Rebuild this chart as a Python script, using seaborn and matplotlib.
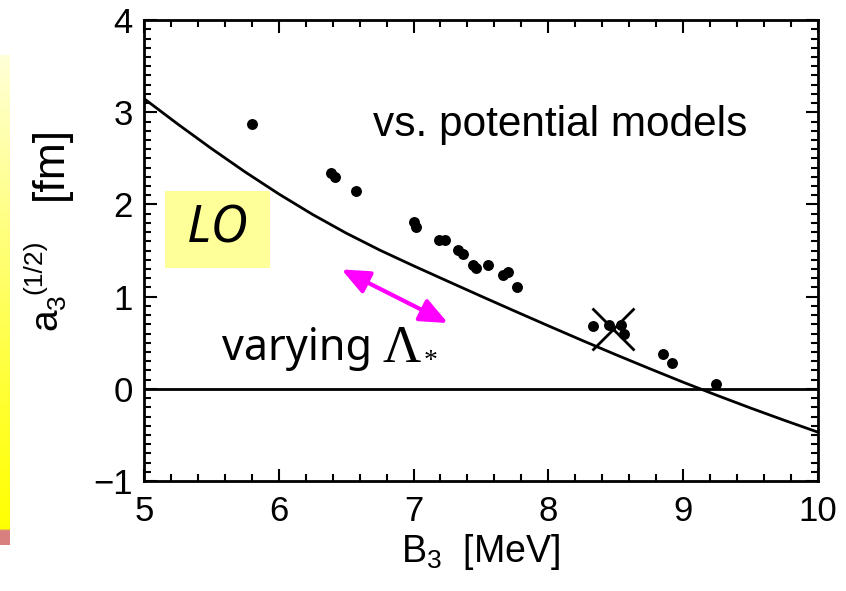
import numpy as np
import pandas as pd
import matplotlib
matplotlib.use("Agg")
import matplotlib.pyplot as plt
from matplotlib.patches import Rectangle
from matplotlib.ticker import MultipleLocator
from matplotlib.transforms import IdentityTransform
import seaborn as sns

# Three-body scattering length vs. triton binding energy
model_B3 = [5.80, 6.385, 6.42, 6.57, 7.00, 7.02, 7.19, 7.23, 7.33, 7.37, 7.44,
            7.46, 7.55, 7.66, 7.70, 7.77, 8.33, 8.45, 8.54, 8.56, 8.85, 8.92, 9.24]
model_a3 = [2.87, 2.34, 2.30, 2.15, 1.81, 1.76, 1.61, 1.61, 1.51, 1.46, 1.34,
            1.31, 1.34, 1.23, 1.27, 1.10, 0.68, 0.69, 0.69, 0.59, 0.38, 0.28, 0.05]

# LO curve (Phillips line)
lo_B3 = [5.0, 5.25, 5.5, 5.75, 6.0, 6.25, 6.5, 6.75, 7.0, 7.25, 7.5,
         7.75, 8.0, 8.25, 8.5, 8.75, 9.0, 9.25, 9.5, 9.75, 10.0]
lo_a3 = [3.15, 2.874, 2.608, 2.354, 2.115, 1.893, 1.69, 1.505, 1.335, 1.17,
         1.006, 0.844, 0.684, 0.526, 0.371, 0.22, 0.072, -0.07, -0.208,
         -0.341, -0.47]

# experimental point
exp_B3 = [8.48]
exp_a3 = [0.65]

sns.set_theme(style="ticks")
plt.rcParams["font.family"] = ["Liberation Sans", "DejaVu Sans"]
plt.rcParams["mathtext.fontset"] = "custom"
plt.rcParams["mathtext.rm"] = "Liberation Sans"
plt.rcParams["mathtext.it"] = "Liberation Sans"
plt.rcParams["text.color"] = "black"
plt.rcParams["axes.labelcolor"] = "black"

W, H = 846, 591
fig = plt.figure(figsize=(W / 100, H / 100), dpi=100)
ax = fig.add_axes([0.170, 0.186, 0.797, 0.780])

# decorative slide strip at the left edge
strip = fig.add_axes([0.0, 1 - 545 / H, 9 / W, 490 / H])
grad = np.linspace(0, 1, 256)[:, None]
cols = np.zeros((256, 1, 3))
cols[..., 0] = 1.0
cols[..., 1] = 1.0
cols[..., 2] = 0.85 * (1 - grad) ** 1.2
cols[-8:, 0, :] = [0.85, 0.5, 0.5]
strip.imshow(cols, aspect="auto", interpolation="bilinear")
strip.axis("off")

curve_df = pd.DataFrame({"B3": lo_B3, "a3": lo_a3})
model_df = pd.DataFrame({"B3": model_B3, "a3": model_a3})

ax.axhline(0, color="black", lw=2.0, zorder=1)
sns.lineplot(data=curve_df, x="B3", y="a3", ax=ax, color="black", lw=2.0,
             zorder=2)
sns.scatterplot(data=model_df, x="B3", y="a3", ax=ax, color="black", s=62,
                edgecolor="black", linewidth=0, zorder=3)
ax.plot(exp_B3, exp_a3, marker="x", markersize=30, mew=2.0, color="black",
        ls="none", zorder=4)

ax.set_xlim(5, 10)
ax.set_ylim(-1, 4)
ax.xaxis.set_major_locator(MultipleLocator(1))
ax.xaxis.set_minor_locator(MultipleLocator(0.2))
ax.yaxis.set_major_locator(MultipleLocator(1))
ax.yaxis.set_minor_locator(MultipleLocator(0.1))
ax.tick_params(which="both", direction="in", top=True, right=True,
               width=1.5, colors="black")
ax.tick_params(which="major", length=9, labelsize=25)
ax.tick_params(axis="x", which="major", pad=10)
ax.tick_params(axis="y", which="major", pad=8)
ax.tick_params(which="minor", length=5)
ax.set_yticks([-1, 0, 1, 2, 3, 4])
ax.set_yticklabels(["\u22121", "0", "1", "2", "3", "4"])
for s in ax.spines.values():
    s.set_linewidth(2.0)
    s.set_color("black")

ax.set_xlabel(r"B$_3$  [MeV]", fontsize=27, labelpad=3, color="black")
ax.set_ylabel("")

# rotated y-axis label assembled from pieces (pixel positions, origin top-left)
def ylab(txt, xb, ystart, size):
    fig.text(xb, H - ystart, txt, fontsize=size, rotation=90,
             rotation_mode="anchor", ha="left", va="baseline",
             transform=IdentityTransform(), color="black")

ylab("a", 56, 330, 28)
ylab("3", 65, 309, 19)
ylab("(1/2)", 41, 294, 19)
ylab("[fm]", 62, 200, 32)

ax.text(8.09, 2.86, "vs. potential models", fontsize=30.5, ha="center",
        va="center", color="black")

# LO label box
ax.add_patch(Rectangle((5.156, 1.31), 0.779, 0.835, fc="#FFFF99", ec="none",
                       zorder=0.5))
ax.text(5.55, 1.73, "LO", fontsize=37, style="italic", ha="center",
        va="center", family=["Noto Sans", "DejaVu Sans"])

ax.annotate("", xy=(6.466, 1.296), xytext=(7.255, 0.714),
            arrowprops=dict(arrowstyle="<|-|>,head_length=1.4,head_width=0.6",
                            color="#FF00FF", lw=3, shrinkA=0, shrinkB=0))
ax.text(5.58, 0.31, "varying", fontsize=31, ha="left", va="baseline",
        family=["Noto Sans", "DejaVu Sans"])
ax.text(6.77, 0.29, "\u039b", fontsize=38, ha="left", va="baseline",
        family=["Liberation Serif", "DejaVu Serif"])
ax.text(7.13, 0.30, "*", fontsize=20, ha="center", va="center",
        family=["Liberation Serif", "DejaVu Serif"])

fig.savefig("out.png", dpi=100)
